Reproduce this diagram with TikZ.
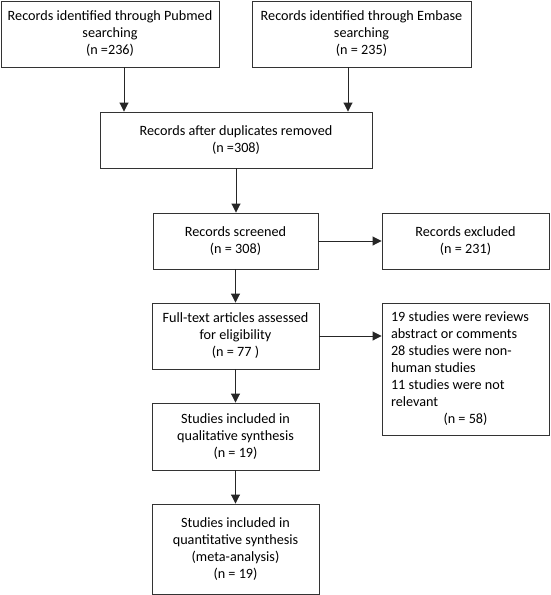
\documentclass[tikz,border=0pt]{standalone}
\usepackage{fontspec}
\setmainfont{Carlito}
\usetikzlibrary{arrows.meta}
\begin{document}
\begin{tikzpicture}[x=1pt,y=-1pt,
  box/.style={draw=black!80,line width=0.9pt,rectangle,inner sep=0pt,align=center,
    font=\fontsize{14.2}{17}\selectfont},
  arr/.style={draw=black!85,line width=0.9pt,-{Triangle[length=9pt,width=9pt]}}]
\useasboundingbox (0,0) rectangle (550,595);
\node[box,minimum width=218pt,minimum height=66pt] (b1) at (110,34) {Records identified through Pubmed\\searching\\(n =236)};
\node[box,minimum width=219pt,minimum height=66pt] (b2) at (361.5,34) {Records identified through Embase\\searching\\(n = 235)};
\node[box,minimum width=272pt,minimum height=56pt] (b3) at (236,140) {Records after duplicates removed\\(n =308)};
\node[box,minimum width=165pt,minimum height=56pt] (b4) at (235.5,241) {Records screened\\(n = 308)};
\node[box,minimum width=167pt,minimum height=56pt] (b5) at (465.5,241) {Records excluded\\(n = 231)};
\node[box,minimum width=167pt,minimum height=66pt] (b6) at (235.5,336) {Full-text articles assessed\\for eligibility\\(n = 77 )};
\node[box,minimum width=167pt,minimum height=132pt,text width=149pt,inner xsep=9pt,align=flush left] (b7) at (465.5,369) {19 studies were reviews\\abstract or comments\\28 studies were non-\\human studies\\11 studies were not\\relevant\\\makebox[149pt]{(n = 58)}};
\node[box,minimum width=167pt,minimum height=67pt] (b8) at (235.5,436.5) {Studies included in\\qualitative synthesis\\(n = 19)};
\node[box,minimum width=167pt,minimum height=90pt] (b9) at (235.5,549) {Studies included in\\quantitative synthesis\\(meta-analysis)\\(n = 19)};
\draw[arr] ([xshift=14pt]b1.south) -- ([xshift=14pt]b1.south |- b3.north);
\draw[arr] ([xshift=-13.5pt]b2.south) -- ([xshift=-13.5pt]b2.south |- b3.north);
\draw[arr] (b3.south) -- (b3.south |- b4.north);
\draw[arr] (b4.east) -- (b5.west);
\draw[arr] (b4.south) -- (b6.north);
\draw[arr] (b6.east) -- (b6.east -| b7.west);
\draw[arr] (b6.south) -- (b8.north);
\draw[arr] (b8.south) -- (b9.north);
\end{tikzpicture}
\end{document}
